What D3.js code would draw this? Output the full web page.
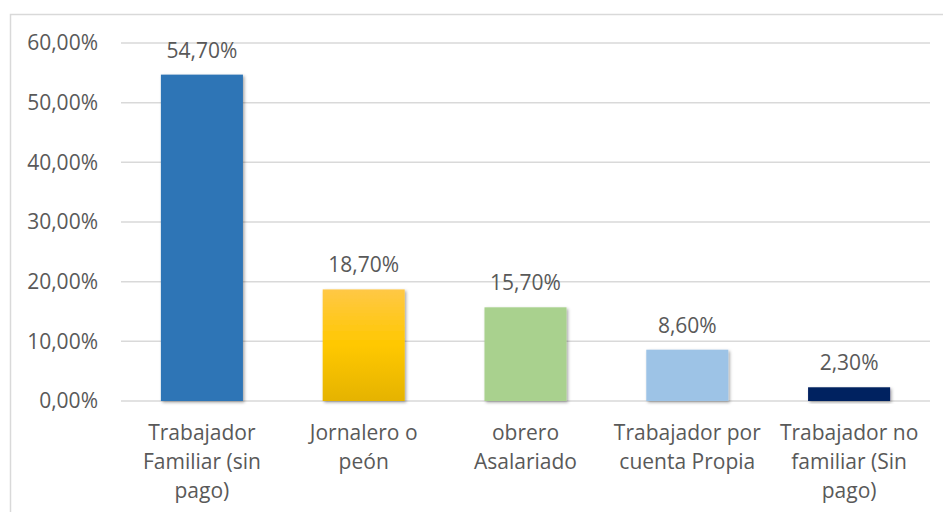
<!DOCTYPE html>
<html>
<head>
<meta charset="utf-8">
<script src="https://cdn.jsdelivr.net/npm/d3@7"></script>
<style>
  body { margin: 0; background: #fff; }
  text { font-family: "Open Sans", "Noto Sans", sans-serif; fill: #595959; }
</style>
</head>
<body>
<div id="chart"></div>
<script>
var categories = ["Trabajador Familiar (sin pago)", "Jornalero o peón", "obrero Asalariado", "Trabajador por cuenta Propia", "Trabajador no familiar (Sin pago)"];
var catLines = [["Trabajador", "Familiar (sin", "pago)"], ["Jornalero o", "peón"], ["obrero", "Asalariado"], ["Trabajador por", "cuenta Propia"], ["Trabajador no", "familiar (Sin", "pago)"]];
var values = [54.7, 18.7, 15.7, 8.6, 2.3];
var yTicks = [0, 10, 20, 30, 40, 50, 60];
var barColors = ["#2E75B6", "url(#gold)", "#A9D18E", "#9DC3E6", "#002060"];

var width = 943, height = 512;
var plotLeft = 121, plotRight = 930, plotTop = 43, plotBottom = 401;

var svg = d3.select("#chart").append("svg")
  .attr("width", width)
  .attr("height", height);

var defs = svg.append("defs");
var grad = defs.append("linearGradient").attr("id", "gold")
  .attr("x1", 0).attr("y1", 0).attr("x2", 0).attr("y2", 1);
grad.append("stop").attr("offset", "0%").attr("stop-color", "#FFC846");
grad.append("stop").attr("offset", "50%").attr("stop-color", "#FFC800");
grad.append("stop").attr("offset", "100%").attr("stop-color", "#E5B300");

var shadow = defs.append("filter").attr("id", "shadow")
  .attr("x", "-20%").attr("y", "-20%").attr("width", "140%").attr("height", "140%");
shadow.append("feDropShadow")
  .attr("dx", 1.5).attr("dy", 1.5).attr("stdDeviation", 1.8)
  .attr("flood-color", "#000").attr("flood-opacity", 0.35);

// chart border
svg.append("rect")
  .attr("x", 10.5).attr("y", 14.5)
  .attr("width", 940).attr("height", 510)
  .attr("fill", "none")
  .attr("stroke", "#D9D9D9")
  .attr("stroke-width", 1.5);

var x = d3.scaleBand()
  .domain(categories)
  .range([plotLeft, plotRight])
  .paddingInner(0.493)
  .paddingOuter(0.2465);

var y = d3.scaleLinear()
  .domain([0, 60])
  .range([plotBottom, plotTop]);

// gridlines
svg.append("g").selectAll("line")
  .data(yTicks)
  .enter().append("line")
  .attr("x1", plotLeft).attr("x2", plotRight)
  .attr("y1", function(d) { return y(d); })
  .attr("y2", function(d) { return y(d); })
  .attr("stroke", "#D9D9D9")
  .attr("stroke-width", 1.5);

// y axis labels
var yAxis = d3.axisLeft(y)
  .tickValues(yTicks)
  .tickSize(0)
  .tickPadding(0)
  .tickFormat(function(d) { return d.toFixed(2).replace(".", ",") + "%"; });

var yg = svg.append("g")
  .attr("transform", "translate(98,0)")
  .call(yAxis);
yg.select(".domain").remove();
yg.selectAll("text")
  .attr("font-size", "21px")
  .attr("font-family", "Open Sans")
  .attr("fill", "#595959");

// bars
svg.append("g").selectAll("rect")
  .data(values)
  .enter().append("rect")
  .attr("x", function(d, i) { return x(categories[i]); })
  .attr("y", function(d) { return y(d); })
  .attr("width", x.bandwidth())
  .attr("height", function(d) { return y(0) - y(d); })
  .attr("fill", function(d, i) { return barColors[i]; })
  .attr("filter", "url(#shadow)");

// value labels
svg.append("g").selectAll("text")
  .data(values)
  .enter().append("text")
  .attr("x", function(d, i) { return x(categories[i]) + x.bandwidth() / 2; })
  .attr("y", function(d) { return y(d) - 17; })
  .attr("text-anchor", "middle")
  .attr("font-size", "21px")
  .text(function(d) { return d.toFixed(2).replace(".", ",") + "%"; });

// category labels
var cat = svg.append("g").selectAll("text")
  .data(catLines)
  .enter().append("text")
  .attr("text-anchor", "middle")
  .attr("font-size", "21px")
  .attr("transform", function(d, i) {
    return "translate(" + (x(categories[i]) + x.bandwidth() / 2) + ",440)";
  });

cat.selectAll("tspan")
  .data(function(d) { return d; })
  .enter().append("tspan")
  .attr("x", 0)
  .attr("y", function(d, j) { return j * 29; })
  .text(function(d) { return d; });
</script>
</body>
</html>
